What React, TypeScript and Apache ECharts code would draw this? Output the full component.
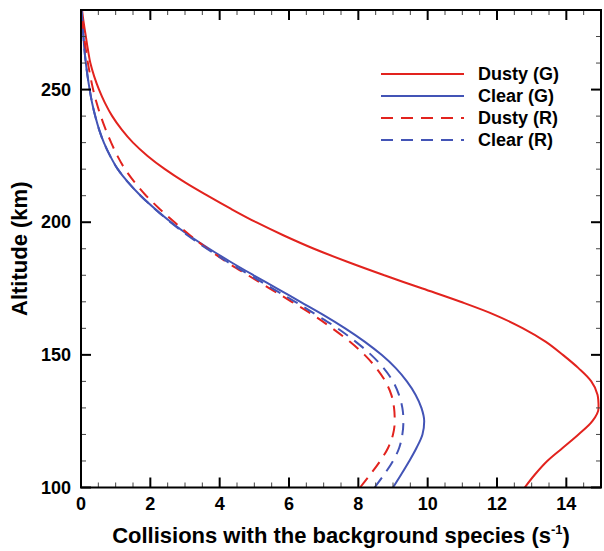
import React, { useEffect, useRef, useState } from "react";
import * as echarts from "echarts";

const altitudes = [100,105,110,115,120,125,130,135,140,145,150,155,160,165,170,175,180,185,190,195,200,205,210,215,220,225,230,235,240,245,250,255,260,265,270,275,280];
const dustyG = [12.8,13.1,13.45,13.9,14.35,14.75,14.93,14.9,14.72,14.35,13.9,13.4,12.75,11.95,10.95,9.85,8.75,7.7,6.72,5.85,5.05,4.33,3.65,3.0,2.42,1.92,1.5,1.17,0.9,0.69,0.52,0.38,0.27,0.2,0.14,0.08,0.03];
const clearG = [9.0,9.24,9.47,9.68,9.85,9.9,9.82,9.65,9.4,9.08,8.67,8.18,7.62,7.0,6.33,5.66,4.98,4.32,3.7,3.12,2.6,2.14,1.72,1.36,1.06,0.84,0.66,0.52,0.41,0.32,0.25,0.19,0.14,0.1,0.07,0.04,0.02];
const dustyR = [8.05,8.35,8.63,8.86,9.0,9.05,9.03,8.95,8.78,8.52,8.18,7.75,7.25,6.7,6.08,5.45,4.82,4.2,3.65,3.15,2.7,2.27,1.88,1.55,1.27,1.05,0.87,0.71,0.57,0.45,0.35,0.27,0.2,0.14,0.09,0.05,0.02];
const clearR = [8.47,8.75,9.0,9.18,9.27,9.3,9.27,9.17,9.0,8.73,8.37,7.92,7.4,6.8,6.18,5.53,4.88,4.23,3.63,3.08,2.58,2.13,1.72,1.36,1.06,0.84,0.66,0.52,0.41,0.32,0.25,0.19,0.14,0.1,0.07,0.04,0.02];
const seriesNames = ["Dusty (G)", "Clear (G)", "Dusty (R)", "Clear (R)"];
const xTickLabels = [0, 2, 4, 6, 8, 10, 12, 14];
const yTickLabels = [100, 150, 200, 250];
const xMinorTicks = [0.5, 1, 1.5, 2.5, 3, 3.5, 4.5, 5, 5.5, 6.5, 7, 7.5, 8.5, 9, 9.5, 10.5, 11, 11.5, 12.5, 13, 13.5, 14.5];
const yMinorTicks = [110, 120, 130, 140, 160, 170, 180, 190, 210, 220, 230, 240, 260, 270];

const RED = "#e2231e";
const BLUE = "#4354b6";
const FONT = "'Liberation Sans', Arial, Helvetica, sans-serif";

const frameData: number[][] = [
  ...xTickLabels.map((v) => [v, 0]),
  ...xMinorTicks.map((v) => [v, 1]),
  ...yTickLabels.map((v) => [v, 2]),
  ...yMinorTicks.map((v) => [v, 3]),
  [0, 4],
];

export default function App() {
  const ref = useRef<HTMLDivElement>(null);
  const [msgs, setMsgs] = useState<string[]>([]);
  useEffect(() => {
    if (!ref.current) return;
    const found: string[] = [];
    const origWarn = console.warn;
    const origErr = console.error;
    console.warn = (...a: any[]) => { found.push("W: " + a.map(String).join(" ")); origWarn(...a); };
    console.error = (...a: any[]) => { found.push("E: " + a.map(String).join(" ")); origErr(...a); };
    const onErr = (e: any) => { found.push("X: " + (e && e.message)); };
    window.addEventListener("error", onErr);
    const chart = echarts.init(ref.current, null, { renderer: "svg" });
    const xMin = 0, xMax = 15, yMin = 100, yMax = 280;
    const mk = (name: string, vals: number[], color: string, dashed: boolean) => ({
      name, type: "line", xAxisIndex: 0, yAxisIndex: 0,
      data: altitudes.map((a, i) => [vals[i], a]),
      showSymbol: false, symbol: "none", smooth: 0.35,
      lineStyle: { color, width: 2, type: dashed ? [12, 8] : "solid" },
      itemStyle: { color },
    });
    const majorStyle = { stroke: "#000", lineWidth: 2 };
    const minorStyle = { stroke: "#444", lineWidth: 1 };
    try {
      chart.setOption({
        animation: false,
        grid: { left: 81, top: 10, width: 520, height: 478 },
        legend: {
          orient: "vertical", left: 375, top: 60,
          itemWidth: 83, itemHeight: 14, itemGap: 4,
          data: seriesNames,
          itemStyle: { opacity: 0 },
          textStyle: { fontSize: 18, lineHeight: 18, fontWeight: "bold", fontFamily: FONT, color: "#000", padding: [0, 0, 0, 9] },
        },
        xAxis: {
          type: "value", min: xMin, max: xMax, interval: 2, position: "bottom",
          splitLine: { show: false },
          axisLine: { show: false, onZero: false },
          axisTick: { show: false },
          axisLabel: {
            margin: 7, color: "#000", fontSize: 18, fontWeight: "bold", fontFamily: FONT,
            formatter: (v: number) => (xTickLabels.includes(v) ? String(v) : ""),
          },
          name: "{a|Collisions with the background species (s}{s|-1}{a|)}",
          nameLocation: "middle", nameGap: 35,
          nameTextStyle: {
            rich: {
              a: { fontSize: 22, fontWeight: "bold", fontFamily: FONT, color: "#000" },
              s: { fontSize: 13, fontWeight: "bold", fontFamily: FONT, color: "#000", padding: [0, 0, 12, 0] },
            },
          },
        },
        yAxis: {
          type: "value", min: yMin, max: yMax, interval: 50, position: "left",
          splitLine: { show: false },
          axisLine: { show: false, onZero: false },
          axisTick: { show: false },
          axisLabel: {
            margin: 10, color: "#000", fontSize: 18, fontWeight: "bold", fontFamily: FONT,
            formatter: (v: number) => (yTickLabels.includes(v) ? String(v) : ""),
          },
          name: "Altitude (km)", nameLocation: "middle", nameGap: 46, nameRotate: 90,
          nameTextStyle: { fontSize: 22, fontWeight: "bold", fontFamily: FONT, color: "#000" },
        },
        series: [
          mk(seriesNames[0], dustyG, RED, false),
          mk(seriesNames[1], clearG, BLUE, false),
          mk(seriesNames[2], dustyR, RED, true),
          mk(seriesNames[3], clearR, BLUE, true),
          {
            type: "custom", name: "frame", silent: true, z: 5, clip: false,
            data: frameData,
            renderItem: (params: any, api: any) => {
              const v = api.value(0);
              const kind = api.value(1);
              if (kind === 4) {
                const p0 = api.coord([xMin, yMax]);
                const p1 = api.coord([xMax, yMin]);
                return {
                  type: "rect",
                  shape: { x: p0[0], y: p0[1], width: p1[0] - p0[0], height: p1[1] - p0[1] },
                  style: { fill: "none", stroke: "#000", lineWidth: 2 },
                };
              }
              const major = kind === 0 || kind === 2;
              const L = major ? 10 : 5;
              const style = major ? majorStyle : minorStyle;
              if (kind === 0 || kind === 1) {
                const b = api.coord([v, yMin]);
                const t = api.coord([v, yMax]);
                return {
                  type: "group",
                  children: [
                    { type: "line", shape: { x1: b[0], y1: b[1], x2: b[0], y2: b[1] - L }, style },
                    { type: "line", shape: { x1: t[0], y1: t[1], x2: t[0], y2: t[1] + L }, style },
                  ],
                };
              }
              const l = api.coord([xMin, v]);
              const r = api.coord([xMax, v]);
              return {
                type: "group",
                children: [
                  { type: "line", shape: { x1: l[0], y1: l[1], x2: l[0] + L, y2: l[1] }, style },
                  { type: "line", shape: { x1: r[0], y1: r[1], x2: r[0] - L, y2: r[1] }, style },
                ],
              };
            },
          },
        ],
      });
    } catch (e: any) {
      found.push("T: " + (e && e.message));
    }
    const timer = setTimeout(() => setMsgs([...found]), 50);
    return () => {
      clearTimeout(timer);
      console.warn = origWarn;
      console.error = origErr;
      window.removeEventListener("error", onErr);
      chart.dispose();
    };
  }, []);
  return (
    <>
      <div ref={ref} style={{ width: 604, height: 551, position: "absolute", left: 0, top: 0 }} />
      {msgs.length > 0 && (
        <div style={{ position: "absolute", left: 90, top: 300, width: 280, fontSize: 10, color: "#800", fontFamily: "DejaVu Sans" }}>
          {msgs.slice(0, 8).map((m, i) => <div key={i}>{m.slice(0, 300)}</div>)}
        </div>
      )}
    </>
  );
}
